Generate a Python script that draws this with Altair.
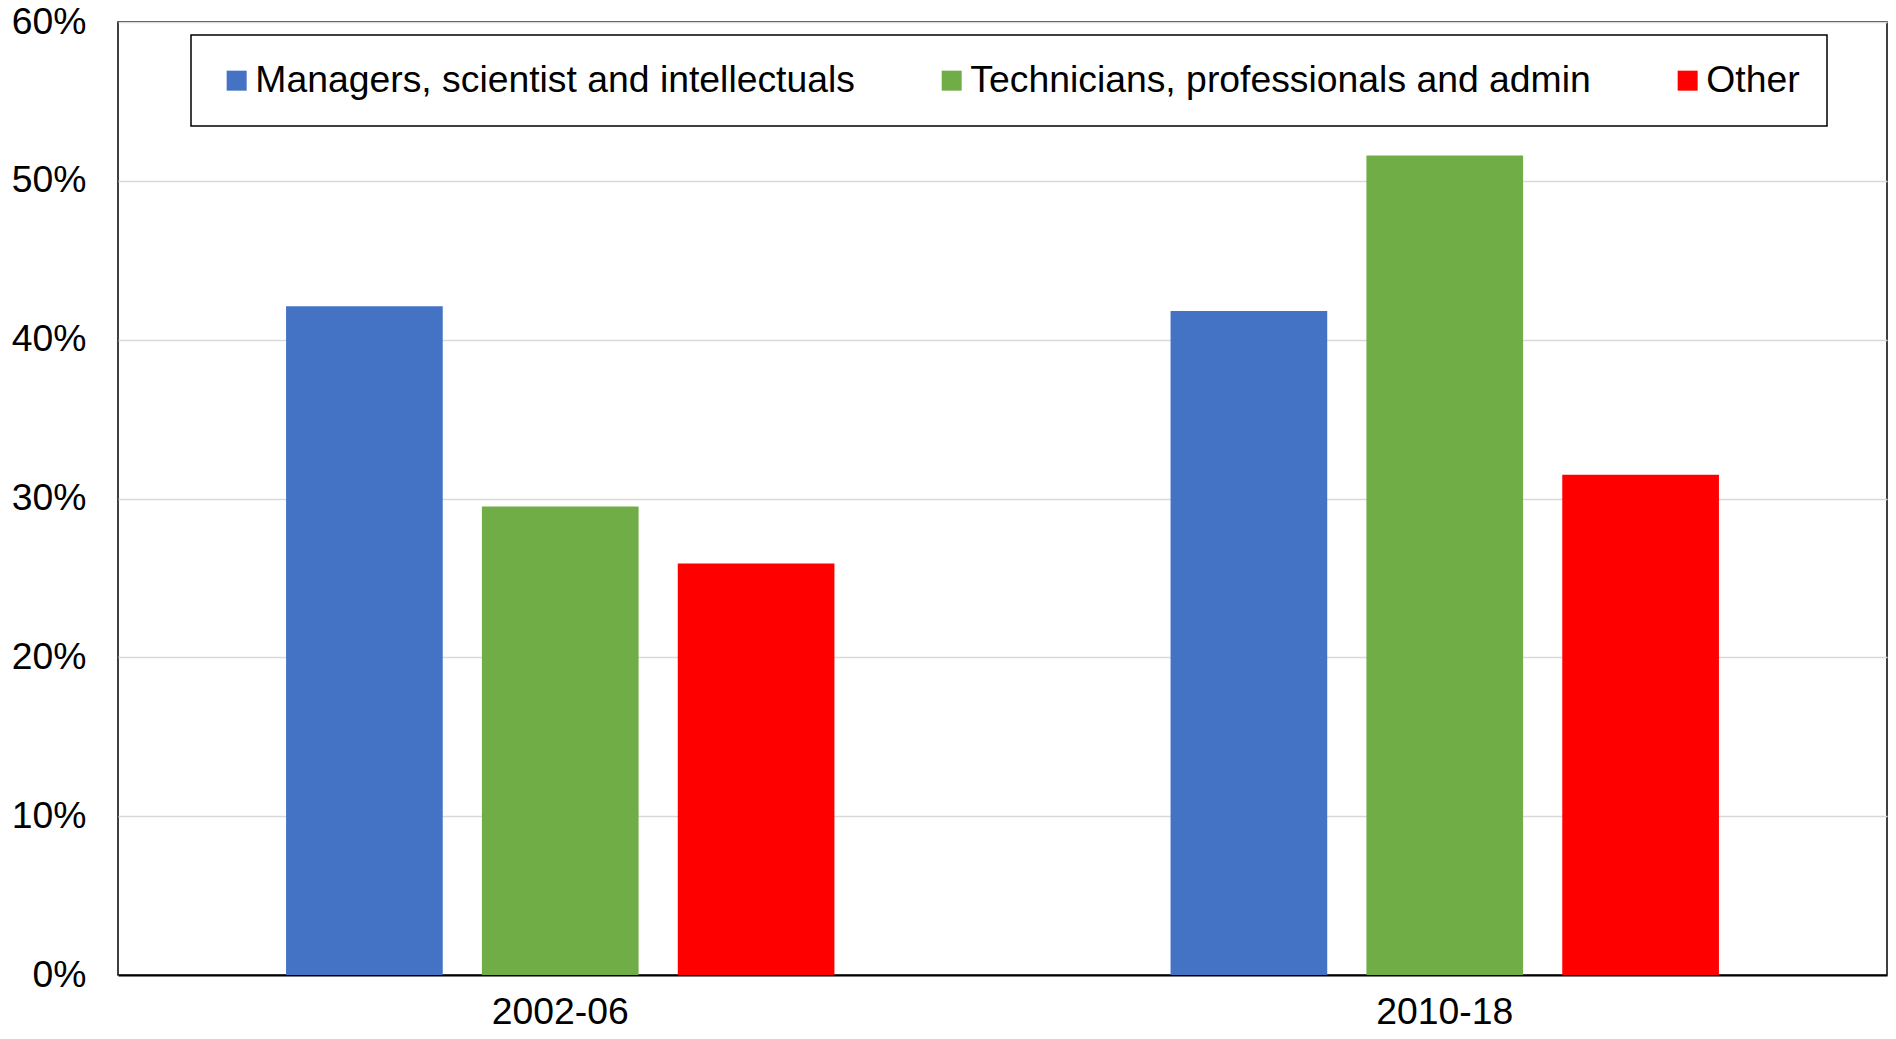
import altair as alt
import pandas as pd

periods = ["2002-06", "2010-18"]
groups = ["Managers, scientist and intellectuals", "Technicians, professionals and admin", "Other"]
managers = [0.421, 0.418]
technicians = [0.295, 0.516]
other = [0.259, 0.315]
colors = ["#4472C4", "#70AD47", "#FF0000"]
y_ticks = [0, 0.1, 0.2, 0.3, 0.4, 0.5, 0.6]

rows = []
for i, p in enumerate(periods):
    for g, vals in zip(groups, [managers, technicians, other]):
        rows.append({"period": p, "group": g, "value": vals[i]})
df = pd.DataFrame(rows)

font = "Liberation Sans"
fs = 37.33

chart = alt.Chart(df).mark_bar().encode(
    x=alt.X("period:N", sort=periods,
            scale=alt.Scale(paddingInner=0.38, paddingOuter=0.19),
            axis=alt.Axis(title=None, labelAngle=0, ticks=False, domain=True,
                          domainColor="black", domainWidth=2, labelPadding=19,
                          labelFontSize=fs, labelColor="black", grid=False)),
    xOffset=alt.XOffset("group:N", sort=groups,
                        scale=alt.Scale(paddingInner=0.2, paddingOuter=0)),
    y=alt.Y("value:Q", scale=alt.Scale(domain=[0, 0.6], nice=False),
            axis=alt.Axis(title=None, values=y_ticks, format=".0%", domain=False,
                          ticks=False, labelPadding=32, labelFontSize=fs,
                          labelColor="black", grid=True, gridColor="#d9d9d9",
                          gridWidth=1.5)),
    color=alt.Color("group:N", sort=groups,
                    scale=alt.Scale(domain=groups, range=colors),
                    legend=alt.Legend(orient="none", legendX=73, legendY=13,
                                      direction="horizontal", title=None,
                                      symbolType="square", symbolSize=400,
                                      symbolStrokeWidth=0, labelFontSize=fs,
                                      labelColor="black", labelOffset=0,
                                      columnPadding=78, padding=27,
                                      strokeColor="black", fillColor="white",
                                      labelLimit=1000)),
).properties(
    width=1769, height=953,
    autosize=alt.AutoSizeParams(type="none"),
    padding={"left": 110, "top": 14, "right": 1, "bottom": 50},
).configure(font=font).configure_view(
    stroke="black", strokeWidth=1.5
).configure_legend(strokeWidth=1.5)

chart.save("out.html", embed_options={"renderer": "svg", "actions": False})
